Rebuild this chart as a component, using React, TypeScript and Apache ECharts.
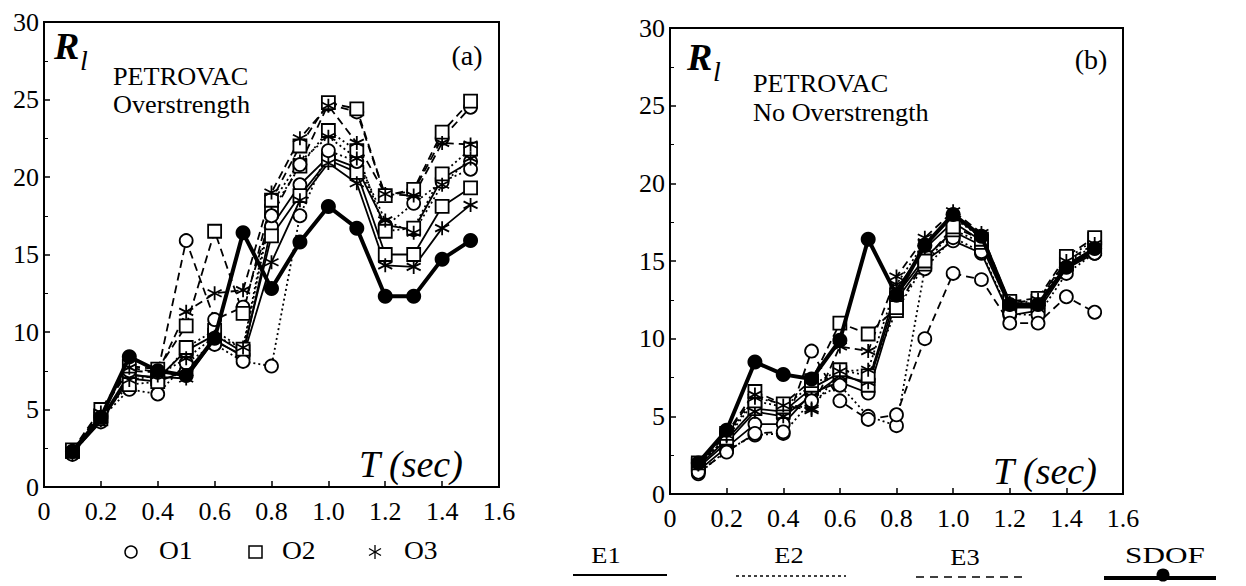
import React, { useEffect, useRef } from "react";
import * as echarts from "echarts";

const T = [0.1, 0.2, 0.3, 0.4, 0.5, 0.6, 0.7, 0.8, 0.9, 1.0, 1.1, 1.2, 1.3, 1.4, 1.5];
const xTicks = ["0", "0.2", "0.4", "0.6", "0.8", "1.0", "1.2", "1.4", "1.6"];

// Panel (a): PETROVAC, Overstrength
const a_SDOF = [2.3, 4.5, 8.4, 7.5, 7.2, 9.6, 16.4, 12.8, 15.8, 18.1, 16.7, 12.3, 12.3, 14.7, 15.9];
const a_O1E1 = [2.2, 4.2, 7.0, 6.8, 7.5, 9.4, 8.5, 16.8, 19.5, 21.3, 20.6, 16.9, 16.6, 19.9, 21.0];
const a_O2E1 = [2.3, 4.4, 7.3, 7.0, 8.8, 9.8, 8.7, 16.2, 18.8, 21.1, 20.3, 15.0, 15.0, 18.1, 19.3];
const a_O3E1 = [2.2, 4.3, 7.2, 7.1, 7.0, 9.5, 8.4, 14.5, 18.5, 20.9, 19.6, 14.3, 14.2, 16.7, 18.2];
const a_O1E2 = [2.1, 4.4, 6.3, 6.0, 8.0, 9.2, 8.1, 7.8, 17.5, 21.7, 21.0, 16.8, 18.3, 19.7, 20.5];
const a_O2E2 = [2.3, 4.6, 6.6, 6.8, 9.0, 10.1, 8.9, 17.8, 20.7, 23.0, 21.7, 16.5, 16.7, 20.2, 21.8];
const a_O3E2 = [2.2, 4.5, 6.9, 7.2, 8.3, 9.7, 9.0, 18.3, 21.0, 22.6, 21.2, 17.2, 16.4, 19.5, 21.2];
const a_O1E3 = [2.3, 4.9, 7.5, 7.4, 15.9, 10.8, 11.6, 17.5, 20.8, 24.7, 24.2, 18.8, 19.1, 22.5, 24.5];
const a_O2E3 = [2.4, 5.0, 7.8, 7.6, 10.4, 16.5, 11.2, 18.5, 22.0, 24.8, 24.4, 18.8, 19.2, 22.9, 24.9];
const a_O3E3 = [2.3, 4.8, 7.7, 7.4, 11.3, 12.5, 12.7, 19.0, 22.5, 24.6, 22.2, 18.9, 18.8, 22.2, 22.1];

// Panel (b): PETROVAC, No Overstrength
const b_SDOF = [2.0, 4.1, 8.5, 7.7, 7.4, 9.9, 16.4, 12.8, 16.0, 18.0, 16.6, 12.2, 12.2, 14.6, 15.8];
const b_O1E1 = [1.5, 3.0, 4.5, 4.5, 6.5, 7.2, 6.5, 12.5, 15.0, 16.3, 15.5, 11.5, 11.8, 14.5, 15.5];
const b_O2E1 = [1.8, 3.5, 5.5, 5.3, 6.8, 7.8, 7.0, 12.8, 15.2, 16.9, 16.0, 12.0, 12.0, 14.8, 15.8];
const b_O3E1 = [1.7, 3.3, 5.3, 5.0, 6.3, 7.6, 7.2, 13.2, 15.8, 17.5, 16.3, 12.1, 12.1, 14.6, 15.6];
const b_O1E2 = [1.3, 2.8, 3.8, 3.9, 6.0, 7.0, 5.0, 4.4, 14.5, 16.5, 15.6, 11.6, 11.5, 14.2, 15.5];
const b_O2E2 = [1.9, 3.6, 6.0, 5.6, 7.0, 8.0, 7.6, 11.8, 14.8, 17.0, 16.2, 12.3, 12.4, 15.1, 16.4];
const b_O3E2 = [1.8, 3.7, 6.2, 5.8, 5.5, 7.9, 8.0, 13.5, 16.2, 17.8, 16.5, 12.2, 12.3, 14.9, 16.0];
const b_O1E3 = [1.4, 2.7, 3.9, 4.0, 9.2, 6.0, 4.8, 5.1, 10.0, 14.2, 13.8, 11.0, 11.0, 12.7, 11.7];
const b_O2E3 = [2.0, 3.9, 6.6, 5.8, 7.3, 11.0, 10.3, 12.0, 15.0, 17.2, 16.4, 12.4, 12.6, 15.3, 16.5];
const b_O3E3 = [1.9, 3.8, 6.4, 5.7, 5.4, 9.5, 9.2, 14.0, 16.5, 18.2, 16.8, 12.3, 12.5, 15.0, 16.1];

const STAR = "path://M5,0L5,10M0.67,2.5L9.33,7.5M0.67,7.5L9.33,2.5";
const SERIF = "Times New Roman, Liberation Serif, serif";

const markerOf: Record<string, { symbol: string; size: number }> = {
  O1: { symbol: "circle", size: 13 },
  O2: { symbol: "rect", size: 13 },
  O3: { symbol: STAR, size: 14 },
};
const dashOf: Record<string, any> = {
  E1: "solid",
  E2: [2, 3],
  E3: [8, 5],
};

function mkSeries(name: string, vals: number[], o: string, e: string, axis: number) {
  const m = markerOf[o];
  return {
    name,
    type: "line",
    xAxisIndex: axis,
    yAxisIndex: axis,
    data: T.map((t, i) => [t, vals[i]]),
    symbol: m.symbol,
    symbolSize: m.size,
    z: 3,
    lineStyle: { color: "#000", width: 1.8, type: dashOf[e] },
    itemStyle: { color: o === "O3" ? "#000" : "#fff", borderColor: "#000", borderWidth: 1.8 },
  };
}

function sdofSeries(vals: number[], axis: number) {
  return {
    name: "SDOF",
    type: "line",
    xAxisIndex: axis,
    yAxisIndex: axis,
    data: T.map((t, i) => [t, vals[i]]),
    symbol: "circle",
    symbolSize: 15,
    z: 5,
    lineStyle: { color: "#000", width: 4 },
    itemStyle: { color: "#000", borderColor: "#000", borderWidth: 0 },
  };
}

function xAxis(grid: number) {
  return {
    type: "value",
    gridIndex: grid,
    min: 0,
    max: 1.6,
    interval: 0.2,
    axisLine: { show: true, lineStyle: { color: "#000", width: 2 } },
    axisTick: { show: true, inside: true, length: 6, lineStyle: { color: "#000", width: 1.5 } },
    splitLine: { show: false },
    axisLabel: {
      color: "#000",
      fontFamily: SERIF,
      fontSize: 26,
      margin: 11,
      formatter: (v: number) => xTicks[Math.round(v / 0.2)],
    },
  };
}

function yAxis(grid: number) {
  return {
    type: "value",
    gridIndex: grid,
    min: 0,
    max: 30,
    interval: 5,
    axisLine: { show: true, lineStyle: { color: "#000", width: 2 } },
    axisTick: { show: true, inside: true, length: 6, lineStyle: { color: "#000", width: 1.5 } },
    minorTick: { show: true, splitNumber: 2, length: 4, lineStyle: { color: "#000", width: 1 } },
    splitLine: { show: false },
    axisLabel: { color: "#000", fontFamily: SERIF, fontSize: 26, margin: 5 },
  };
}

function txt(text: string, x: number, y: number, size: number, opts: any = {}) {
  return {
    type: "text",
    x,
    y,
    scaleX: opts.scaleX ?? 1,
    style: {
      text,
      fill: "#000",
      fontFamily: SERIF,
      fontSize: size,
      fontStyle: opts.italic ? "italic" : "normal",
      fontWeight: opts.bold ? "bold" : "normal",
      align: opts.align ?? "left",
      verticalAlign: "middle",
    },
  };
}

function hline(x1: number, x2: number, y: number, width: number, dash: any) {
  return {
    type: "line",
    shape: { x1, y1: y, x2, y2: y },
    style: { stroke: "#000", lineWidth: width, lineDash: dash },
  };
}

export default function App() {
  const ref = useRef<HTMLDivElement>(null);
  useEffect(() => {
    const chart = echarts.init(ref.current!, undefined, { renderer: "svg" });
    const series = [
      mkSeries("O1 E1", a_O1E1, "O1", "E1", 0),
      mkSeries("O2 E1", a_O2E1, "O2", "E1", 0),
      mkSeries("O3 E1", a_O3E1, "O3", "E1", 0),
      mkSeries("O1 E2", a_O1E2, "O1", "E2", 0),
      mkSeries("O2 E2", a_O2E2, "O2", "E2", 0),
      mkSeries("O3 E2", a_O3E2, "O3", "E2", 0),
      mkSeries("O1 E3", a_O1E3, "O1", "E3", 0),
      mkSeries("O2 E3", a_O2E3, "O2", "E3", 0),
      mkSeries("O3 E3", a_O3E3, "O3", "E3", 0),
      sdofSeries(a_SDOF, 0),
      mkSeries("O1 E1", b_O1E1, "O1", "E1", 1),
      mkSeries("O2 E1", b_O2E1, "O2", "E1", 1),
      mkSeries("O3 E1", b_O3E1, "O3", "E1", 1),
      mkSeries("O1 E2", b_O1E2, "O1", "E2", 1),
      mkSeries("O2 E2", b_O2E2, "O2", "E2", 1),
      mkSeries("O3 E2", b_O3E2, "O3", "E2", 1),
      mkSeries("O1 E3", b_O1E3, "O1", "E3", 1),
      mkSeries("O2 E3", b_O2E3, "O2", "E3", 1),
      mkSeries("O3 E3", b_O3E3, "O3", "E3", 1),
      sdofSeries(b_SDOF, 1),
    ];
    const graphic: any[] = [
      // panel (a) texts
      txt("R", 54, 46, 38, { italic: true, bold: true }),
      txt("l", 80, 60, 28, { italic: true }),
      txt("(a)", 467, 55, 28, { align: "center" }),
      txt("PETROVAC", 113, 77, 25, { scaleX: 1.05 }),
      txt("Overstrength", 113, 105, 25, { scaleX: 1.05 }),
      txt("T (sec)", 411, 464, 38, { italic: true, align: "center" }),
      // panel (b) texts
      txt("R", 687, 57, 38, { italic: true, bold: true }),
      txt("l", 713, 71, 28, { italic: true }),
      txt("(b)", 1091, 59, 28, { align: "center" }),
      txt("PETROVAC", 753, 84, 25, { scaleX: 1.05 }),
      txt("No Overstrength", 753, 113, 25, { scaleX: 1.05 }),
      txt("T (sec)", 1045, 471, 38, { italic: true, align: "center" }),
      // legend
      { type: "circle", shape: { cx: 131, cy: 552, r: 6 }, style: { fill: "#fff", stroke: "#000", lineWidth: 1.5 } },
      txt("O1", 159, 551, 25, { scaleX: 1.1 }),
      { type: "rect", shape: { x: 249, y: 546, width: 13, height: 12 }, style: { fill: "#fff", stroke: "#000", lineWidth: 1.5 } },
      txt("O2", 282, 551, 25, { scaleX: 1.1 }),
      {
        type: "group",
        x: 375,
        y: 552,
        children: [
          { type: "line", shape: { x1: 0, y1: -7, x2: 0, y2: 7 }, style: { stroke: "#000", lineWidth: 1.3 } },
          { type: "line", shape: { x1: -6, y1: -3.5, x2: 6, y2: 3.5 }, style: { stroke: "#000", lineWidth: 1.3 } },
          { type: "line", shape: { x1: -6, y1: 3.5, x2: 6, y2: -3.5 }, style: { stroke: "#000", lineWidth: 1.3 } },
        ],
      },
      txt("O3", 404, 551, 25, { scaleX: 1.1 }),
      txt("E1", 606, 555, 24, { align: "center", scaleX: 1.1 }),
      hline(573, 667, 575, 2, null),
      txt("E2", 789, 555, 24, { align: "center", scaleX: 1.1 }),
      hline(736, 846, 576, 1.6, [3, 3]),
      txt("E3", 965, 557, 24, { align: "center", scaleX: 1.1 }),
      hline(916, 1026, 577, 1.6, [8, 6]),
      txt("SDOF", 1165, 555, 24, { align: "center", scaleX: 1.3 }),
      hline(1104, 1216, 578, 4, null),
      { type: "circle", shape: { cx: 1163, cy: 575, r: 6.5 }, style: { fill: "#000" } },
    ];
    chart.setOption({
      animation: false,
      backgroundColor: "#fff",
      grid: [
        { left: 44, top: 22, width: 455, height: 465, show: true, borderColor: "#000", borderWidth: 2, backgroundColor: "transparent" },
        { left: 670, top: 28, width: 453, height: 466, show: true, borderColor: "#000", borderWidth: 2, backgroundColor: "transparent" },
      ],
      xAxis: [xAxis(0), xAxis(1)],
      yAxis: [yAxis(0), yAxis(1)],
      series,
      graphic,
    });
    return () => chart.dispose();
  }, []);
  return (
    <div
      ref={ref}
      style={{ position: "fixed", left: 0, top: 0, width: 1246, height: 586, background: "#fff" }}
    />
  );
}
